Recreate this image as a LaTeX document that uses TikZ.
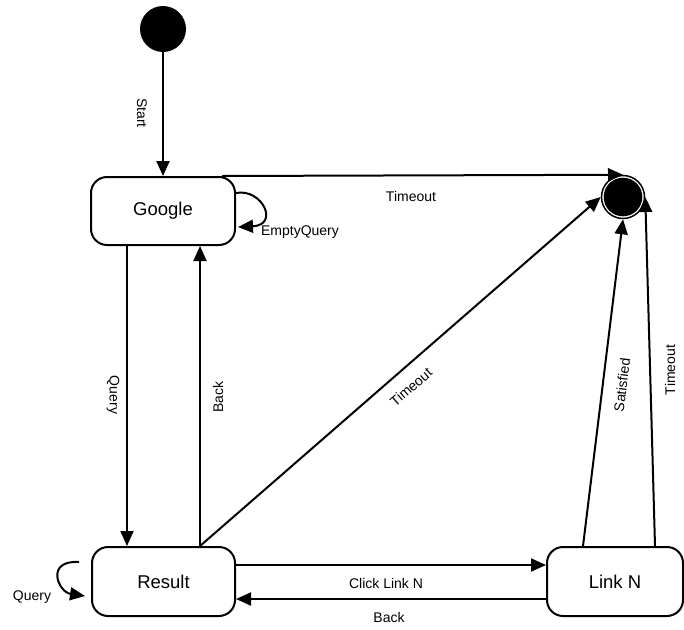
\documentclass[tikz,border=0pt]{standalone}
\usepackage{fontspec}
\setmainfont{Liberation Sans}
\usetikzlibrary{arrows.meta,calc}
\begin{document}
\begin{tikzpicture}[x=1pt,y=-1pt,
  state/.style={draw, line width=2pt, rounded corners=16pt, minimum height=69pt, inner sep=0pt, font=\fontsize{18.5}{20}\selectfont},
  arr/.style={line width=2pt, -{Triangle[length=15pt,width=13pt]}},
  lbl/.style={font=\fontsize{14}{16}\selectfont, inner sep=0pt}
]
\useasboundingbox (0,0) rectangle (684,629);
% states
\node[fill, circle, minimum size=46pt, inner sep=0pt] (start) at (163,29) {};
\node[state, minimum width=144pt, minimum height=68pt] (google) at (163,211) {Google};
\node[state, minimum width=143pt] (result) at (163.5,581.5) {Result};
\node[state, minimum width=136pt] (linkn) at (615,581.5) {Link N};
\node[circle, draw, line width=1.5pt, minimum size=43pt, inner sep=0pt,
      path picture={\fill (path picture bounding box.center) circle (19.3pt);}] (end) at (623,197) {};
% helper coordinates
\coordinate (qx) at (127,0);
\coordinate (bx) at (200,0);
\coordinate (tx) at (222,0);
\coordinate (sx) at (583,0);
\coordinate (rx) at (655,0);
\coordinate (cy) at (0,565);
\coordinate (by) at (0,599);
% connectors
\draw[arr] (start) -- (google);
\draw[arr] (google.south -| qx) -- (result.north -| qx);
\draw[arr] (result.north -| bx) -- (google.south -| bx);
\draw[arr] (google.north -| tx) -- (end.north);
\draw[arr] (result.north -| bx) -- (end.west);
\draw[arr] (linkn.north -| sx) -- (end.south);
\draw[arr] (linkn.north -| rx) -- (end.east);
\draw[arr] (result.east |- cy) -- (linkn.west |- cy);
\draw[arr] (linkn.west |- by) -- (result.east |- by);
% self loops
\draw[arr] ($(google.east)+(0,-18)$) .. controls (262,188) and (280,225) .. ($(google.east)+(2,16)$);
\draw[arr] ($(result.west)+(-12,-19.5)$) .. controls (45,560) and (58,592) .. ($(result.west)+(-6,14.5)$);
% labels
\node[lbl, rotate=-90] (lstart) at (142,113) {Start};
\node[lbl] (lempty) at (300,232) {EmptyQuery};
\node[lbl] (ltime1) at (411,196) {Timeout};
\node[lbl, rotate=-90] (lquery) at (113,395) {Query};
\node[lbl, rotate=90] (lback) at (218,397) {Back};
\node[lbl, rotate=41] (ltime2) at (411,387) {Timeout};
\node[lbl, rotate=83] (lsat) at (622,385) {Satisfied};
\node[lbl, rotate=90] (ltime3) at (670,370) {Timeout};
\node[lbl] (lclick) at (386,583) {Click Link N};
\node[lbl] (lback2) at (389,617) {Back};
\node[lbl] (lquery2) at (32,597) {Query};
\end{tikzpicture}
\end{document}
